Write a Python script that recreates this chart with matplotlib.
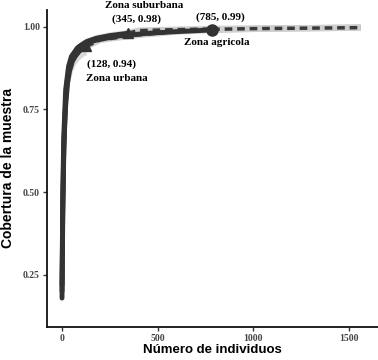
import numpy as np
import matplotlib.pyplot as plt

# curvas de cobertura (rarefaccion) por zona
urb_x = [1, 5, 10, 15, 20, 30, 40, 55, 70, 90, 110, 128]
urb_y = [0.18, 0.42, 0.60, 0.70, 0.76, 0.83, 0.865, 0.895, 0.91, 0.925, 0.935, 0.94]
urb_lo = [0.16, 0.38, 0.55, 0.65, 0.71, 0.79, 0.83, 0.865, 0.885, 0.90, 0.91, 0.915]
urb_hi = [0.20, 0.46, 0.65, 0.75, 0.81, 0.87, 0.90, 0.925, 0.94, 0.95, 0.96, 0.965]

sub_x = [1, 5, 10, 20, 30, 45, 60, 90, 130, 180, 250, 345]
sub_y = [0.20, 0.46, 0.63, 0.78, 0.845, 0.89, 0.915, 0.94, 0.955, 0.965, 0.973, 0.98]

agr_x = [1, 5, 10, 20, 35, 50, 80, 120, 200, 300, 450, 600, 785]
agr_y = [0.22, 0.50, 0.67, 0.81, 0.88, 0.91, 0.935, 0.95, 0.962, 0.972, 0.98, 0.985, 0.99]

# extrapolacion
ext_x = [0, 200, 400, 600, 800, 1000, 1200, 1400, 1560]
urb_ext = [0.94, 0.96, 0.975, 0.985, 0.99, 0.993, 0.995, 0.996, 0.997]
sub_ext = [0.98, 0.98, 0.988, 0.991, 0.993, 0.994, 0.995, 0.996, 0.997]
agr_ext = [0.99, 0.99, 0.99, 0.99, 0.992, 0.994, 0.995, 0.996, 0.997]

col = "#333333"

plt.rcParams['font.family'] = ['Liberation Serif']
fig = plt.figure(figsize=(3.78, 3.6), dpi=100)
ax = fig.add_axes([0.124, 0.092, 0.876, 0.88])

# bandas de confianza
ax.fill_between(urb_x, urb_lo, urb_hi, color="#d9d9d9", lw=0)
ax.fill_between(sub_x[6:], np.array(sub_y[6:]) - 0.012, np.array(sub_y[6:]) + 0.012, color="#e3e3e3", lw=0)

# extrapolaciones punteadas
for ex, x0 in [(urb_ext, urb_x[-1]), (sub_ext, sub_x[-1]), (agr_ext, agr_x[-1])]:
    xx = [x0] + [v for v in ext_x if v > x0]
    yy = [ex[0]] + [ex[i] for i, v in enumerate(ext_x) if v > x0]
    ax.plot(xx, yy, color="#cfcfcf", lw=4.5, solid_capstyle="butt")
    ax.plot(xx, yy, color="#3a3a3a", lw=2.5, ls=(0, (2.2, 1.4)))

# curvas interpoladas
ax.plot(agr_x, agr_y, color=col, lw=3.5, solid_capstyle="round")
ax.plot(sub_x, sub_y, color=col, lw=3.5, solid_capstyle="round")
ax.plot(urb_x, urb_y, color=col, lw=3.5, solid_capstyle="round")

ax.plot(urb_x[-1], urb_y[-1], marker="^", color=col, ms=7)
ax.plot(sub_x[-1], sub_y[-1], marker="^", color=col, ms=7)
ax.plot(agr_x[-1], agr_y[-1], marker="o", color=col, ms=8)

fw = dict(fontsize=8, fontweight="bold", ha="center", va="center")
ax.annotate("(128, 0.94)", (urb_x[-1], urb_y[-1]), xytext=(18, -13), textcoords="offset points", **fw)
ax.annotate("Zona urbana", (urb_x[-1], urb_y[-1]), xytext=(22, -23), textcoords="offset points", **fw)
ax.annotate("(345, 0.98)", (sub_x[-1], sub_y[-1]), xytext=(6, 10), textcoords="offset points", **fw)
ax.annotate("Zona suburbana", (sub_x[-1], sub_y[-1]), xytext=(12, 20), textcoords="offset points", **fw)
ax.annotate("(785, 0.99)", (agr_x[-1], agr_y[-1]), xytext=(6, 9), textcoords="offset points", **fw)
ax.annotate("Zona agricola", (agr_x[-1], agr_y[-1]), xytext=(3, -9), textcoords="offset points", **fw)

ax.set_xlim(-78, 1650)
ax.set_ylim(0.093, 1.05)
ax.set_xticks([0, 500, 1000, 1500])
ax.set_yticks([0.25, 0.50, 0.75, 1.00])
ax.set_yticklabels(["0.25", "0.50", "0.75", "1.00"])
ax.tick_params(labelsize=7, length=3, width=1, color="#333333", pad=2)
for lab in ax.get_xticklabels() + ax.get_yticklabels():
    lab.set_fontweight("bold")
    lab.set_color("#444444")
ax.spines["top"].set_visible(False)
ax.spines["right"].set_visible(False)
for s in ["left", "bottom"]:
    ax.spines[s].set_linewidth(1.3)
    ax.spines[s].set_color("#111111")

ax.set_xlabel("Número de individuos", family="Liberation Sans", fontweight="bold", fontsize=9.5, labelpad=1)
ax.set_ylabel("Cobertura de la muestra", family="Liberation Sans", fontweight="bold", fontsize=10, labelpad=6)

plt.savefig("out.png", dpi=100)
